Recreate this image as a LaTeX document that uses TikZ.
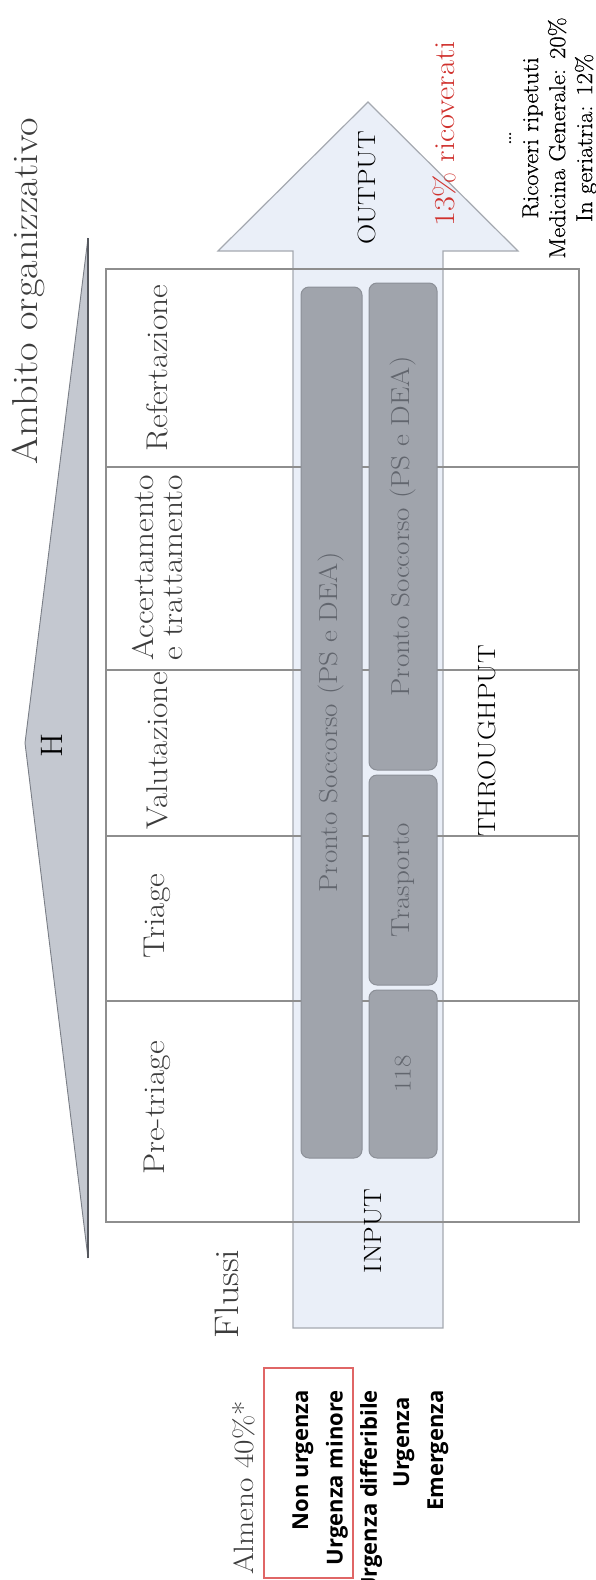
\documentclass[tikz,border=0pt]{standalone}
\usepackage{fontspec}
\setmainfont{Latin Modern Roman}[FakeStretch=1.12]
\newfontfamily\medserif{Latin Modern Roman}[FakeStretch=1.07, FakeBold=0.6]
\newfontfamily\osans{Open Sans}
\definecolor{bandfill}{HTML}{EAEFF8}
\definecolor{bandline}{HTML}{A5A9B0}
\definecolor{gridline}{HTML}{8E8E8E}
\definecolor{boxfill}{HTML}{A0A4AC}
\definecolor{boxline}{HTML}{8C9098}
\definecolor{boxtext}{HTML}{62666E}
\definecolor{trifill}{HTML}{C4C8D0}
\definecolor{triline}{HTML}{7A7E86}
\definecolor{tridark}{HTML}{55585E}
\definecolor{hdrtext}{HTML}{3C3C3C}
\definecolor{redtext}{HTML}{D0312D}
\definecolor{redbox}{HTML}{E06666}
\begin{document}
\begin{tikzpicture}[x=1pt,y=-1pt,
  gbox/.style={rotate=90, draw=boxline, fill=boxfill, line width=1pt, rounded corners=8pt,
    inner sep=0pt, text=boxtext, font=\fontsize{26}{28}\selectfont},
  hdr/.style={rotate=90, text=hdrtext, align=center, inner sep=0pt, font=\fontsize{30}{29}\selectfont},
  flowlbl/.style={rotate=90, text=black, inner sep=0pt, font=\fontsize{25}{27}\selectfont},
  sevlbl/.style={rotate=90, anchor=east, inner sep=0pt, text=black, font=\osans\bfseries\fontsize{22}{26}\selectfont},
  gridln/.style={draw=gridline, line width=1.5pt}
]
\useasboundingbox (0,0) rectangle (595,1580);

% organisational scope triangle
\fill[trifill] (88,238) -- (25,743) -- (88,1258) -- cycle;
\draw[triline, line width=0.9pt] (88,238) -- (25,743) -- (88,1258);
\draw[tridark, line width=2pt] (88,238) -- (88,1258);
\node[rotate=90, inner sep=0pt, text=black, font=\fontsize{31}{31}\selectfont] (hlab) at (52,745) {H};
\node[rotate=90, inner sep=0pt, text=hdrtext, font=\fontsize{36}{36}\selectfont] (ambito) at (28,291) {Ambito organizzativo};

% flow arrow (input -> output)
\draw[bandline, fill=bandfill, line width=1.2pt]
  (293,1328) -- (293,251) -- (218,251) -- (368,102) -- (518,251) -- (443,251) -- (443,1328) -- cycle;

% grid
\draw[gridln] (106,269) rectangle (579,1222);
\foreach \yy in {467,670,836,1001} \draw[gridln] (106,\yy) -- (579,\yy);

% column headers
\node[hdr] (refert) at (157,368) {Refertazione};
\node[hdr] (accert) at (158,568) {Accertamento\\e trattamento};
\node[hdr] (valut) at (157,751) {Valutazione};
\node[hdr] (triage) at (157,916) {Triage};
\node[hdr] (pretriage) at (157,1108) {Pre-triage};

% grey process boxes
\node[gbox, minimum width=871pt, minimum height=61pt] (psleft) at (331.5,722.5) {Pronto Soccorso (PS e DEA)};
\node[gbox, minimum width=487pt, minimum height=68pt] (psright) at (403,526.5) {Pronto Soccorso (PS e DEA)};
\node[gbox, minimum width=210pt, minimum height=68pt] (trasp) at (403,880) {Trasporto};
\node[gbox, minimum width=168pt, minimum height=68pt, font=\fontsize{24}{26}\selectfont] (e118) at (403,1074) {118};

% flow labels
\node[flowlbl] (output) at (367,188) {OUTPUT};
\node[flowlbl] (through) at (487,741) {THROUGHPUT};
\node[flowlbl] (input) at (373,1231) {INPUT};

% outcome texts
\node[rotate=90, inner sep=0pt, text=redtext, font=\fontsize{29}{29}\selectfont] (ricov) at (444,134) {13\% ricoverati};
\node[rotate=90, inner sep=0pt, align=center, text=black, font=\medserif\fontsize{23}{27}\selectfont] (ripet) at (553,138)
  {\ldots\\Ricoveri ripetuti\\Medicina Generale: 20\%\\In geriatria: 12\%};

% flows / severity
\node[rotate=90, inner sep=0pt, text=hdrtext, font=\fontsize{34}{34}\selectfont] (flussi) at (227,1294) {Flussi};
\node[rotate=90, inner sep=0pt, text=hdrtext, font=\fontsize{28}{28}\selectfont] (almeno) at (244,1488) {Almeno 40\%*};
\draw[redbox, line width=1.5pt] (264,1368) rectangle (353,1578);
\node[sevlbl] (nonurg) at (303,1390) {Non urgenza};
\node[sevlbl] (urgmin) at (337,1390) {Urgenza minore};
\node[sevlbl] (urgdiff) at (371,1390) {Urgenza differibile};
\node[sevlbl] (urg) at (404,1397) {Urgenza};
\node[sevlbl] (emerg) at (438,1390) {Emergenza};
\end{tikzpicture}
\end{document}
